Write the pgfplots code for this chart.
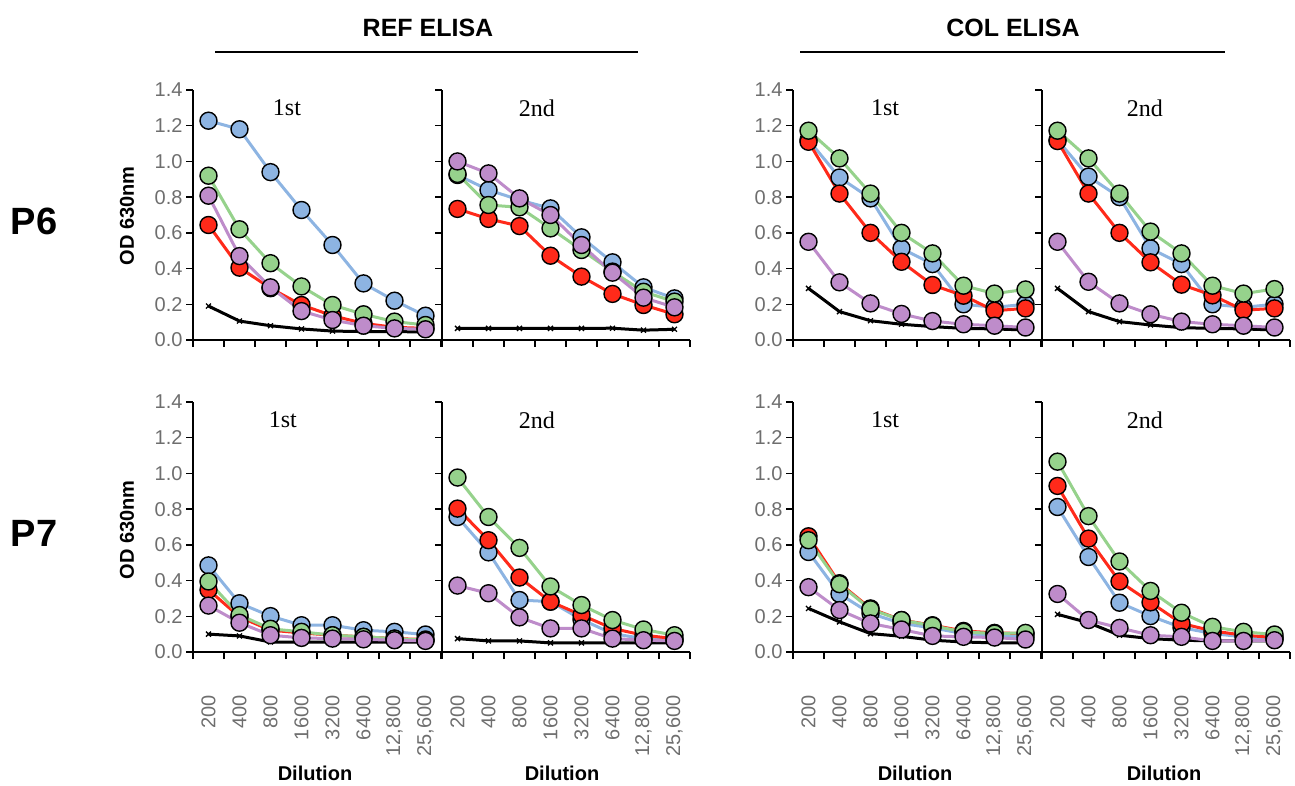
\documentclass[border=0pt]{standalone}
\usepackage{fontspec}
\setsansfont{Liberation Sans}
\newfontfamily\titleserif{Liberation Serif}
\usepackage{pgfplots}
\pgfplotsset{compat=1.18}
\usepackage{pgfplotstable}

\definecolor{cblue}{RGB}{141,180,226}
\definecolor{cred}{RGB}{255,42,26}
\definecolor{cgreen}{RGB}{150,210,140}
\definecolor{cpurple}{RGB}{190,140,202}
\definecolor{tickgray}{RGB}{110,110,110}

% columns: b=blue r=red g=green p=purple k=black
\pgfplotstableread{
x b r g p k
0 1.228 0.644 0.920 0.808 0.190
1 1.180 0.405 0.620 0.470 0.106
2 0.940 0.290 0.430 0.295 0.080
3 0.728 0.196 0.300 0.162 0.062
4 0.532 0.136 0.196 0.112 0.050
5 0.317 0.093 0.144 0.080 0.047
6 0.220 0.071 0.103 0.065 0.047
7 0.136 0.065 0.084 0.060 0.045
}\refa
\pgfplotstableread{
x b r g p k
0 0.924 0.734 0.930 1.000 0.065
1 0.840 0.678 0.756 0.933 0.065
2 0.784 0.638 0.743 0.793 0.065
3 0.737 0.472 0.625 0.700 0.065
4 0.575 0.355 0.504 0.532 0.065
5 0.435 0.258 0.383 0.377 0.066
6 0.295 0.196 0.270 0.237 0.055
7 0.233 0.144 0.215 0.183 0.060
}\refb
\pgfplotstableread{
x b r g p k
0 1.120 1.110 1.172 0.550 0.289
1 0.910 0.820 1.017 0.323 0.159
2 0.793 0.600 0.820 0.205 0.108
3 0.513 0.438 0.600 0.146 0.088
4 0.425 0.308 0.485 0.106 0.075
5 0.200 0.248 0.304 0.088 0.065
6 0.183 0.164 0.260 0.080 0.062
7 0.200 0.177 0.283 0.070 0.056
}\cola
\pgfplotstableread{
x b r g p k
0 1.120 1.114 1.172 0.550 0.289
1 0.915 0.820 1.017 0.326 0.159
2 0.800 0.600 0.820 0.205 0.103
3 0.513 0.435 0.607 0.144 0.084
4 0.425 0.310 0.485 0.103 0.069
5 0.200 0.250 0.304 0.088 0.065
6 0.183 0.167 0.260 0.080 0.062
7 0.200 0.177 0.285 0.070 0.056
}\colb
\pgfplotstableread{
x b r g p k
0 0.485 0.348 0.395 0.260 0.100
1 0.273 0.197 0.207 0.164 0.090
2 0.201 0.122 0.130 0.094 0.056
3 0.150 0.107 0.113 0.079 0.056
4 0.150 0.094 0.094 0.075 0.056
5 0.122 0.085 0.085 0.071 0.056
6 0.113 0.075 0.075 0.066 0.056
7 0.098 0.070 0.066 0.062 0.056
}\refc
\pgfplotstableread{
x b r g p k
0 0.756 0.803 0.977 0.372 0.075
1 0.558 0.626 0.756 0.329 0.062
2 0.291 0.417 0.583 0.194 0.062
3 0.282 0.282 0.367 0.132 0.051
4 0.182 0.207 0.263 0.132 0.051
5 0.103 0.132 0.179 0.075 0.051
6 0.075 0.094 0.126 0.066 0.051
7 0.066 0.075 0.094 0.062 0.051
}\refd
\pgfplotstableread{
x b r g p k
0 0.560 0.648 0.626 0.363 0.244
1 0.325 0.385 0.380 0.235 0.169
2 0.216 0.244 0.239 0.160 0.103
3 0.160 0.179 0.179 0.126 0.088
4 0.135 0.150 0.147 0.090 0.066
5 0.103 0.118 0.113 0.085 0.056
6 0.094 0.107 0.103 0.081 0.051
7 0.085 0.103 0.107 0.070 0.051
}\colc
\pgfplotstableread{
x b r g p k
0 0.812 0.930 1.066 0.325 0.211
1 0.532 0.635 0.761 0.179 0.164
2 0.276 0.395 0.507 0.135 0.094
3 0.201 0.278 0.342 0.094 0.075
4 0.137 0.160 0.220 0.085 0.066
5 0.103 0.118 0.141 0.062 0.062
6 0.085 0.094 0.113 0.062 0.062
7 0.075 0.081 0.098 0.066 0.062
}\cold

\pgfplotsset{
  panel/.style={
    scale only axis, width=248pt, height=250pt,
    xmin=-0.5, xmax=7.5, ymin=0, ymax=1.4,
    axis x line*=bottom, axis y line*=left,
    axis line style={line width=1.8pt},
    tick align=outside, major tick length=7pt,
    every tick/.style={black, line width=1.5pt},
    xtick={-0.5,0.5,...,7.5}, xticklabels={,,,,,,,,,},
    ytick={0,0.2,...,1.4},
    yticklabel style={font=\sffamily\fontsize{20}{24}\selectfont, text=tickgray,
      /pgf/number format/.cd, fixed, fixed zerofill, precision=1, assume math mode=true},
    clip=false,
  },
  noylab/.style={yticklabels={,,,,,,,,,}},
  xlabs/.style={
    extra x ticks={0,...,7},
    extra x tick labels={200,400,800,1600,3200,6400,{12,800},{25,600}},
    extra x tick style={major tick length=0pt,
      xticklabel style={rotate=90, anchor=east, font=\sffamily\fontsize{20}{24}\selectfont, text=tickgray}},
    xticklabel shift=40pt,
  },
  sb/.style={cblue, line width=3pt, mark=*, mark size=8.5pt, mark options={fill=cblue, draw=black, line width=1.4pt}},
  sr/.style={cred, line width=3pt, mark=*, mark size=8.5pt, mark options={fill=cred, draw=black, line width=1.4pt}},
  sg/.style={cgreen, line width=3pt, mark=*, mark size=8.5pt, mark options={fill=cgreen, draw=black, line width=1.4pt}},
  sp/.style={cpurple, line width=3pt, mark=*, mark size=8.5pt, mark options={fill=cpurple, draw=black, line width=1.4pt}},
  sk/.style={black, line width=3pt, mark=x, mark size=3.5pt, mark options={line width=1.3pt}},
}

\newcommand{\panel}[6]{%
\begin{axis}[panel, at={(#1pt,#2pt)}, anchor=south west, #6]
\addplot[sk] table[x=x,y=k] {#3};
\addplot[sb] table[x=x,y=b] {#3};
\addplot[sr] table[x=x,y=r] {#3};
\addplot[sg] table[x=x,y=g] {#3};
\addplot[sp] table[x=x,y=p] {#3};
\node[font=\titleserif\fontsize{24}{26}\selectfont] at (axis cs:#5,1.3) {#4};
\end{axis}}

\begin{document}
\begin{tikzpicture}
\useasboundingbox (0,0) rectangle (1295pt,785pt);
\panel{193}{445}{\refa}{1st}{2.53}{}
\panel{442}{445}{\refb}{2nd}{2.56}{noylab}
\panel{793}{445}{\cola}{1st}{2.47}{}
\panel{1042}{445}{\colb}{2nd}{2.82}{noylab}
\panel{193}{133}{\refc}{1st}{2.40}{xlabs}
\panel{442}{133}{\refd}{2nd}{2.56}{noylab,xlabs}
\panel{793}{133}{\colc}{1st}{2.47}{xlabs}
\panel{1042}{133}{\cold}{2nd}{2.82}{noylab,xlabs}

\node[font=\sffamily\bfseries\fontsize{25}{28}\selectfont] at (428pt,757pt) {REF ELISA};
\draw[line width=2.6pt] (215pt,733pt) -- (638pt,733pt);
\node[font=\sffamily\bfseries\fontsize{25}{28}\selectfont] at (1013pt,757pt) {COL ELISA};
\draw[line width=2.6pt] (800pt,733pt) -- (1225pt,733pt);

\node[font=\sffamily\bfseries\fontsize{38}{40}\selectfont] at (34pt,564pt) {P6};
\node[font=\sffamily\bfseries\fontsize{38}{40}\selectfont] at (34pt,252pt) {P7};
\node[rotate=90, font=\sffamily\bfseries\fontsize{20}{24}\selectfont] at (127pt,569pt) {OD 630nm};
\node[rotate=90, font=\sffamily\bfseries\fontsize{20}{24}\selectfont] at (127pt,255pt) {OD 630nm};

\node[font=\sffamily\bfseries\fontsize{20}{24}\selectfont] at (315pt,12pt) {Dilution};
\node[font=\sffamily\bfseries\fontsize{20}{24}\selectfont] at (562pt,12pt) {Dilution};
\node[font=\sffamily\bfseries\fontsize{20}{24}\selectfont] at (915pt,12pt) {Dilution};
\node[font=\sffamily\bfseries\fontsize{20}{24}\selectfont] at (1164pt,12pt) {Dilution};
\end{tikzpicture}
\end{document}
